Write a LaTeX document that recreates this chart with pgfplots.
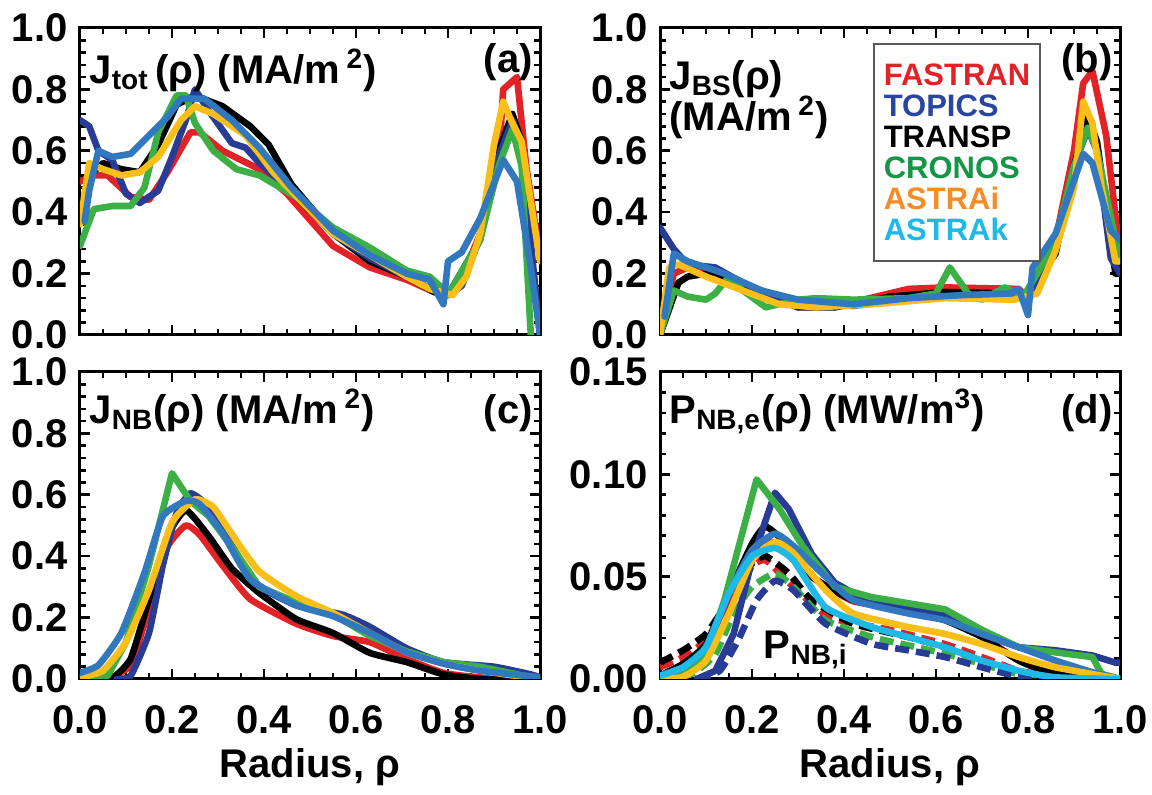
\documentclass[border=0pt]{standalone}
\usepackage{fontspec}
\setmainfont{Liberation Sans}
\usepackage{pgfplots}
\pgfplotsset{compat=1.18}
\usepgfplotslibrary{groupplots}

\definecolor{cred}{RGB}{225,35,40}
\definecolor{cdblue}{RGB}{40,60,150}
\definecolor{cgreen}{RGB}{60,175,70}
\definecolor{cyellow}{RGB}{250,190,25}
\definecolor{csteel}{RGB}{50,120,190}
\definecolor{ccyan}{RGB}{30,185,230}
\definecolor{lgreen}{RGB}{20,150,70}
\definecolor{lorange}{RGB}{245,140,40}
\definecolor{lblue}{RGB}{40,70,160}

\newcommand{\bigfont}{\fontsize{20}{22}\selectfont\bfseries}
\newcommand{\legfont}{\fontsize{15.5}{15.5}\selectfont\bfseries}

\pgfplotsset{
  panel/.style={
    scale only axis, width=230pt, height=153.5pt,
    xmin=0, xmax=1, xtick={0,0.2,0.4,0.6,0.8,1},
    minor x tick num=3, minor y tick num=4,
    axis line style={line width=1.5pt},
    major tick length=5pt, minor tick length=3pt,
    every tick/.style={black, line width=1.3pt},
    tick label style={font=\bigfont},
    /pgf/number format/assume math mode=true,
    /pgf/number format/fixed, /pgf/number format/fixed zerofill,
    /pgf/number format/precision=1,
    yticklabel style={inner sep=0pt, anchor=east, xshift=-6pt},
    xticklabel style={inner sep=0pt, anchor=north, yshift=-13pt},
    every axis x label/.style={at={(axis description cs:0.5,0)}, anchor=base, yshift=-49.5pt, font=\bigfont},
    every axis plot/.append style={line width=3.3pt, line join=round, line cap=round},
  },
  jpanel/.style={ymin=0, ymax=1, ytick={0,0.2,0.4,0.6,0.8,1}},
  sm/.style={smooth, tension=0.3},
  dsh/.style={dash pattern=on 7pt off 3.5pt, line cap=butt},
}

\begin{document}
\begin{tikzpicture}
\begin{groupplot}[group style={group size=2 by 2, horizontal sep=60pt, vertical sep=18.5pt, xticklabels at=edge bottom}, panel]

% (a) total current
\nextgroupplot[jpanel]
\addplot[cred] coordinates {(0,0.50)(0.03,0.52)(0.06,0.52)(0.11,0.45)(0.15,0.44)(0.19,0.53)(0.24,0.66)(0.26,0.66)(0.31,0.60)(0.39,0.54)(0.45,0.46)(0.55,0.29)(0.63,0.22)(0.71,0.18)(0.77,0.14)(0.80,0.13)(0.82,0.15)(0.87,0.33)(0.91,0.55)(0.92,0.80)(0.95,0.84)(0.97,0.55)(1.0,0.26)};
\addplot[black] coordinates {(0,0.39)(0.02,0.52)(0.05,0.56)(0.09,0.54)(0.13,0.53)(0.17,0.62)(0.21,0.75)(0.25,0.78)(0.31,0.745)(0.37,0.68)(0.41,0.62)(0.46,0.49)(0.55,0.33)(0.63,0.24)(0.71,0.19)(0.77,0.14)(0.80,0.13)(0.87,0.31)(0.91,0.60)(0.94,0.72)(0.96,0.63)(0.98,0.27)(1.0,0.02)};
\addplot[cdblue] coordinates {(0,0.70)(0.02,0.68)(0.04,0.60)(0.07,0.57)(0.10,0.46)(0.13,0.43)(0.17,0.47)(0.20,0.58)(0.23,0.70)(0.25,0.80)(0.28,0.73)(0.33,0.625)(0.36,0.61)(0.39,0.56)(0.45,0.48)(0.55,0.33)(0.63,0.25)(0.71,0.19)(0.77,0.145)(0.80,0.13)(0.83,0.16)(0.87,0.32)(0.91,0.58)(0.94,0.70)(0.96,0.62)(0.98,0.3)(1.0,0.0)};
\addplot[cgreen] coordinates {(0,0.29)(0.03,0.41)(0.07,0.42)(0.11,0.42)(0.14,0.48)(0.17,0.66)(0.21,0.78)(0.23,0.78)(0.25,0.69)(0.29,0.60)(0.34,0.54)(0.39,0.52)(0.47,0.45)(0.55,0.35)(0.63,0.285)(0.71,0.21)(0.76,0.19)(0.79,0.15)(0.80,0.13)(0.87,0.31)(0.91,0.55)(0.94,0.67)(0.96,0.55)(0.98,0.0)};
\addplot[cyellow] coordinates {(0,0.36)(0.02,0.56)(0.05,0.54)(0.09,0.52)(0.13,0.53)(0.17,0.58)(0.22,0.70)(0.25,0.745)(0.29,0.72)(0.36,0.65)(0.42,0.53)(0.55,0.33)(0.71,0.19)(0.76,0.15)(0.81,0.13)(0.84,0.19)(0.87,0.33)(0.90,0.62)(0.92,0.76)(0.94,0.69)(0.96,0.63)(1.0,0.24)};
\addplot[csteel] coordinates {(0.01,0.37)(0.02,0.47)(0.04,0.60)(0.07,0.58)(0.11,0.59)(0.15,0.65)(0.19,0.71)(0.22,0.77)(0.27,0.77)(0.33,0.70)(0.39,0.61)(0.46,0.48)(0.55,0.34)(0.63,0.26)(0.71,0.20)(0.76,0.18)(0.79,0.10)(0.80,0.24)(0.83,0.27)(0.87,0.38)(0.92,0.57)(0.95,0.50)(0.98,0.22)(1.0,0.0)};
\node[anchor=base west, font=\bigfont, inner sep=0pt] at (rel axis cs:0.02,0.82) {J\textsubscript{tot}\,(ρ) (MA/m\,\textsuperscript{2})};
\node[anchor=base east, font=\bigfont, inner sep=0pt] at (rel axis cs:0.985,0.855) {(a)};

% (b) bootstrap current
\nextgroupplot[jpanel]
\addplot[cred] coordinates {(0,0.0)(0.03,0.20)(0.06,0.22)(0.14,0.19)(0.22,0.13)(0.30,0.10)(0.40,0.10)(0.54,0.15)(0.62,0.155)(0.78,0.15)(0.79,0.135)(0.82,0.16)(0.86,0.31)(0.90,0.60)(0.92,0.82)(0.94,0.86)(0.97,0.65)(1.0,0.26)};
\addplot[black] coordinates {(0,0.0)(0.04,0.17)(0.06,0.19)(0.12,0.205)(0.18,0.16)(0.30,0.09)(0.38,0.09)(0.50,0.125)(0.62,0.14)(0.76,0.135)(0.79,0.125)(0.86,0.265)(0.90,0.55)(0.93,0.71)(0.95,0.63)(0.99,0.20)(1.0,0.2)};
\addplot[cdblue] coordinates {(0,0.35)(0.03,0.28)(0.06,0.23)(0.12,0.22)(0.18,0.17)(0.26,0.12)(0.34,0.10)(0.42,0.095)(0.54,0.115)(0.66,0.125)(0.76,0.13)(0.79,0.12)(0.82,0.17)(0.86,0.30)(0.90,0.55)(0.93,0.67)(0.95,0.60)(0.98,0.25)(1.0,0.2)};
\addplot[cgreen] coordinates {(0,0.0)(0.03,0.145)(0.06,0.125)(0.10,0.115)(0.12,0.135)(0.15,0.19)(0.18,0.145)(0.23,0.09)(0.30,0.115)(0.34,0.12)(0.42,0.115)(0.54,0.12)(0.60,0.135)(0.63,0.22)(0.67,0.135)(0.70,0.115)(0.75,0.155)(0.79,0.125)(0.82,0.20)(0.86,0.31)(0.90,0.55)(0.93,0.675)(0.95,0.60)(1.0,0.24)};
\addplot[cyellow] coordinates {(0,0.0)(0.02,0.22)(0.04,0.23)(0.10,0.19)(0.18,0.145)(0.26,0.10)(0.34,0.09)(0.46,0.10)(0.62,0.12)(0.77,0.115)(0.82,0.135)(0.86,0.275)(0.90,0.48)(0.92,0.76)(0.94,0.69)(0.96,0.48)(0.99,0.24)(1.0,0.24)};
\addplot[csteel] coordinates {(0.01,0.06)(0.03,0.265)(0.06,0.24)(0.14,0.20)(0.22,0.145)(0.30,0.115)(0.42,0.10)(0.54,0.12)(0.66,0.13)(0.76,0.135)(0.78,0.15)(0.80,0.065)(0.81,0.22)(0.82,0.24)(0.86,0.33)(0.92,0.59)(0.94,0.56)(0.98,0.34)(1.0,0.31)};
\node[anchor=base west, font=\bigfont, inner sep=0pt] at (rel axis cs:0.02,0.80) {J\textsubscript{BS}(ρ)};
\node[anchor=base west, font=\bigfont, inner sep=0pt] at (rel axis cs:0.02,0.665) {(MA/m\,\textsuperscript{2})};
\node[anchor=base east, font=\bigfont, inner sep=0pt] at (rel axis cs:0.985,0.855) {(b)};
\node[draw=black!65, line width=0.8pt, fill=white, anchor=north west, minimum width=79pt, minimum height=108.5pt, align=left, font=\legfont, inner xsep=5pt] at (rel axis cs:0.463,0.951)
  {\textcolor{cred}{FASTRAN}\\\textcolor{lblue}{TOPICS}\\TRANSP\\\textcolor{lgreen}{CRONOS}\\\textcolor{lorange}{ASTRAi}\\\textcolor{ccyan}{ASTRAk}};

% (c) NB driven current
\nextgroupplot[jpanel, xlabel={Radius, ρ}]
\addplot[cred, sm] coordinates {(0.06,0)(0.11,0.045)(0.15,0.23)(0.19,0.43)(0.23,0.50)(0.26,0.47)(0.31,0.37)(0.37,0.26)(0.47,0.18)(0.55,0.14)(0.63,0.12)(0.71,0.065)(0.79,0.02)(0.87,0.005)(1.0,0)};
\addplot[black, sm] coordinates {(0.07,0)(0.11,0.065)(0.15,0.26)(0.19,0.465)(0.23,0.55)(0.28,0.465)(0.33,0.36)(0.39,0.28)(0.47,0.195)(0.55,0.15)(0.63,0.085)(0.71,0.055)(0.79,0.015)(0.87,0.0)(1.0,0)};
\addplot[cdblue, sm] coordinates {(0.08,0)(0.11,0.01)(0.15,0.15)(0.18,0.37)(0.21,0.54)(0.24,0.605)(0.28,0.56)(0.34,0.41)(0.38,0.31)(0.47,0.24)(0.57,0.21)(0.63,0.17)(0.71,0.10)(0.79,0.055)(0.90,0.04)(0.98,0.015)(1.0,0.005)};
\addplot[cgreen] coordinates {(0,0)(0.06,0.01)(0.10,0.12)(0.15,0.37)(0.20,0.67)(0.24,0.58)(0.28,0.53)(0.34,0.41)(0.39,0.30)(0.47,0.25)(0.55,0.21)(0.63,0.14)(0.71,0.09)(0.79,0.055)(0.87,0.04)(0.95,0.015)(1.0,0)};
\addplot[cyellow, sm] coordinates {(0,0.005)(0.05,0.027)(0.10,0.12)(0.15,0.29)(0.20,0.51)(0.25,0.585)(0.29,0.56)(0.34,0.45)(0.39,0.35)(0.47,0.27)(0.55,0.215)(0.63,0.15)(0.71,0.087)(0.79,0.05)(0.87,0.027)(0.95,0.01)(1.0,0.005)};
\addplot[csteel, sm] coordinates {(0,0.02)(0.04,0.045)(0.09,0.15)(0.14,0.345)(0.18,0.53)(0.23,0.58)(0.26,0.57)(0.31,0.475)(0.37,0.325)(0.47,0.24)(0.55,0.205)(0.63,0.15)(0.71,0.087)(0.79,0.05)(0.87,0.027)(1.0,0.005)};
\node[anchor=base west, font=\bigfont, inner sep=0pt] at (rel axis cs:0.02,0.833) {J\textsubscript{NB}(ρ) (MA/m\,\textsuperscript{2})};
\node[anchor=base east, font=\bigfont, inner sep=0pt] at (rel axis cs:0.985,0.833) {(c)};

% (d) NB heating
\nextgroupplot[xlabel={Radius, ρ}, ymin=0, ymax=0.15, ytick={0,0.05,0.10,0.15},
  yticklabel style={/pgf/number format/precision=2}]
\addplot[cred, dsh, sm] coordinates {(0,0.0057)(0.05,0.0107)(0.10,0.019)(0.15,0.037)(0.20,0.055)(0.23,0.058)(0.29,0.045)(0.37,0.030)(0.50,0.024)(0.62,0.017)(0.70,0.0107)(0.78,0.004)(0.86,0.0008)(1.0,0)};
\addplot[black, dsh, sm] coordinates {(0,0.008)(0.05,0.014)(0.10,0.022)(0.15,0.0385)(0.20,0.0565)(0.23,0.060)(0.28,0.0516)(0.33,0.0385)(0.42,0.027)(0.54,0.0205)(0.62,0.0155)(0.70,0.009)(0.78,0.0033)(0.86,0.0008)(1.0,0)};
\addplot[cgreen, dsh, sm] coordinates {(0,0)(0.07,0.0025)(0.12,0.012)(0.16,0.032)(0.20,0.045)(0.25,0.0516)(0.29,0.045)(0.36,0.0287)(0.46,0.0205)(0.54,0.0164)(0.62,0.0123)(0.70,0.0074)(0.78,0.0025)(1.0,0)};
\addplot[cdblue, dsh, sm] coordinates {(0.08,0)(0.13,0.004)(0.17,0.019)(0.21,0.0385)(0.25,0.048)(0.29,0.0434)(0.36,0.027)(0.46,0.0172)(0.54,0.014)(0.62,0.0107)(0.70,0.0057)(0.78,0.0016)(1.0,0)};
\addplot[cred, sm] coordinates {(0,0.001)(0.05,0.006)(0.10,0.016)(0.15,0.040)(0.20,0.062)(0.23,0.068)(0.28,0.062)(0.33,0.050)(0.42,0.038)(0.54,0.034)(0.62,0.029)(0.70,0.021)(0.78,0.009)(0.86,0.002)(1.0,0)};
\addplot[black, sm] coordinates {(0,0.0016)(0.05,0.0074)(0.10,0.017)(0.15,0.042)(0.20,0.066)(0.23,0.0745)(0.28,0.065)(0.33,0.050)(0.42,0.0385)(0.54,0.0336)(0.62,0.0287)(0.70,0.0205)(0.78,0.009)(0.86,0.0025)(1.0,0)};
\addplot[cdblue] coordinates {(0.08,0)(0.12,0.004)(0.16,0.022)(0.20,0.058)(0.25,0.091)(0.28,0.083)(0.33,0.061)(0.38,0.047)(0.46,0.037)(0.62,0.032)(0.70,0.022)(0.78,0.0155)(0.86,0.014)(0.94,0.0115)(0.99,0.008)(1.0,0.008)};
\addplot[cgreen] coordinates {(0,0)(0.05,0.0025)(0.10,0.012)(0.14,0.0385)(0.21,0.0975)(0.26,0.083)(0.31,0.065)(0.38,0.045)(0.46,0.040)(0.54,0.037)(0.62,0.034)(0.70,0.024)(0.78,0.0155)(0.86,0.013)(0.94,0.0107)(0.96,0.0025)(1.0,0)};
\addplot[csteel, sm] coordinates {(0,0.0016)(0.05,0.0057)(0.10,0.0155)(0.15,0.042)(0.20,0.063)(0.25,0.071)(0.29,0.065)(0.36,0.050)(0.42,0.0385)(0.54,0.032)(0.62,0.0287)(0.70,0.022)(0.78,0.0155)(0.86,0.009)(0.94,0.0033)(1.0,0)};
\addplot[cyellow, sm] coordinates {(0,0)(0.05,0.001)(0.10,0.009)(0.15,0.032)(0.20,0.058)(0.25,0.067)(0.29,0.0615)(0.36,0.0435)(0.42,0.032)(0.54,0.0254)(0.62,0.022)(0.70,0.017)(0.78,0.0107)(0.86,0.0057)(1.0,0)};
\addplot[ccyan, sm] coordinates {(0,0.0016)(0.05,0.0057)(0.10,0.0155)(0.15,0.042)(0.20,0.060)(0.25,0.064)(0.29,0.058)(0.36,0.035)(0.46,0.0254)(0.54,0.0205)(0.62,0.0155)(0.70,0.009)(0.78,0.004)(0.86,0.0008)(1.0,0)};
\node[anchor=base west, font=\bigfont, inner sep=0pt] at (rel axis cs:0.02,0.833) {P\textsubscript{NB,e}(ρ) (MW/m\textsuperscript{3})};
\node[anchor=base east, font=\bigfont, inner sep=0pt] at (rel axis cs:0.985,0.833) {(d)};
\node[anchor=base west, font=\bigfont, inner sep=0pt] at (axis cs:0.225,0.010) {P\textsubscript{NB,i}};
\end{groupplot}
\path (group c1r1.north west) ++(-40pt,14pt) rectangle ++(576pt,-397.5pt);
\end{tikzpicture}
\end{document}
